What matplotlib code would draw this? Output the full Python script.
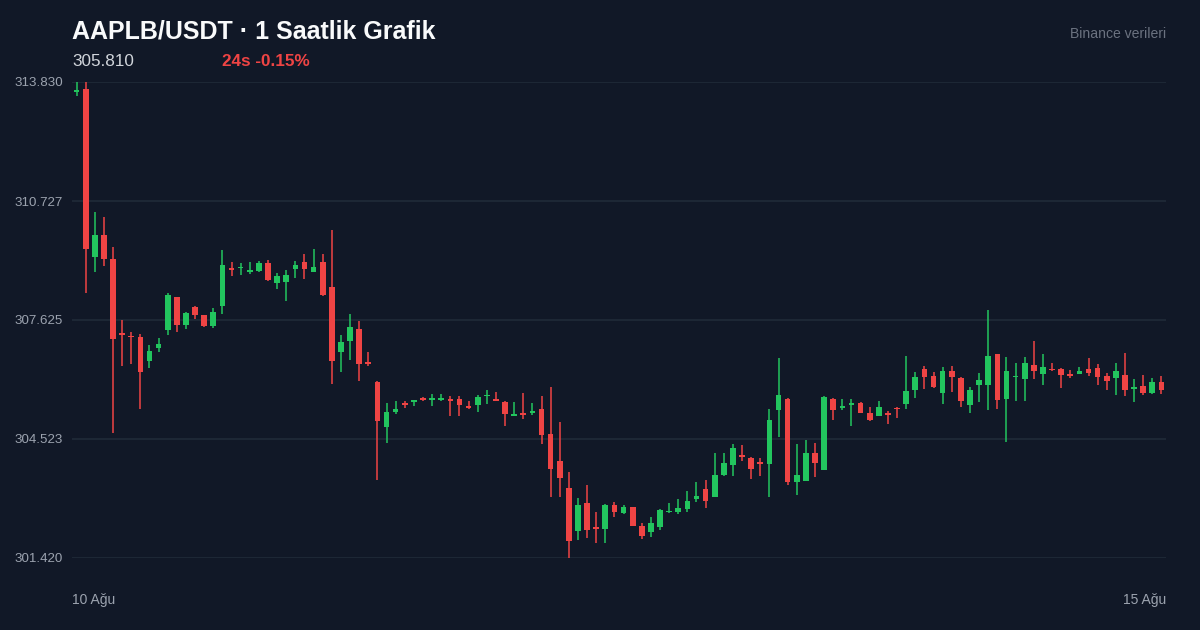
import matplotlib
matplotlib.use("Agg")
import matplotlib.pyplot as plt
import numpy as np

plt.rcParams['font.family'] = ['Liberation Sans', 'DejaVu Sans']

# ---- data (hourly candles, AAPLB/USDT) ----
opens = [313.57, 313.65, 309.28, 309.84, 309.22, 307.29, 307.22, 307.18, 306.56, 306.90,
         307.37, 308.22, 307.50, 307.97, 307.75, 307.48, 308.00, 308.97, 308.97, 308.88,
         308.89, 309.12, 308.60, 308.62, 308.95, 309.13, 308.88, 309.14, 308.49, 306.79,
         307.08, 307.38, 306.54, 306.01, 304.83, 305.23, 305.45, 305.50, 305.58, 305.54,
         305.54, 305.57, 305.57, 305.38, 305.40, 305.64, 305.57, 305.50, 305.13, 305.20,
         305.19, 305.30, 304.65, 303.96, 303.24, 302.13, 302.86, 302.22, 302.17, 302.80,
         302.59, 302.74, 302.26, 302.11, 302.22, 302.61, 302.61, 302.69, 302.96, 303.21,
         303.02, 303.58, 303.84, 304.11, 304.04, 303.92, 303.88, 305.27, 305.57, 303.41,
         303.43, 304.16, 303.72, 305.56, 305.33, 305.40, 305.47, 305.19, 305.13, 305.20,
         305.34, 305.44, 305.81, 306.36, 306.17, 305.73, 306.30, 306.12, 305.42, 305.94,
         305.93, 306.74, 305.57, 306.13, 306.08, 306.44, 306.22, 306.36, 306.35, 306.23,
         306.22, 306.34, 306.38, 306.17, 306.10, 306.19, 305.83, 305.90, 305.71, 306.02]
highs = [313.82, 313.83, 310.44, 310.31, 309.53, 307.63, 307.31, 307.26, 306.97, 307.16,
         308.33, 308.23, 307.83, 307.99, 307.76, 307.94, 309.45, 309.14, 309.11, 309.14,
         309.17, 309.18, 308.84, 308.93, 309.16, 309.35, 309.48, 309.35, 309.96, 307.23,
         307.78, 307.60, 306.79, 306.03, 305.47, 305.52, 305.51, 305.54, 305.61, 305.69,
         305.70, 305.64, 305.65, 305.52, 305.67, 305.79, 305.74, 305.51, 305.49, 305.71,
         305.46, 305.65, 305.87, 304.97, 303.65, 302.98, 303.32, 302.62, 302.83, 302.87,
         302.80, 302.75, 302.34, 302.48, 302.69, 302.85, 302.95, 303.17, 303.39, 303.45,
         304.16, 304.16, 304.38, 304.37, 304.05, 304.02, 305.30, 306.63, 305.59, 304.39,
         304.50, 304.42, 305.64, 305.59, 305.57, 305.56, 305.48, 305.36, 305.52, 305.24,
         305.36, 306.68, 306.26, 306.43, 306.28, 306.40, 306.43, 306.13, 305.87, 306.24,
         307.88, 306.75, 306.67, 306.50, 306.65, 307.08, 306.74, 306.50, 306.37, 306.31,
         306.39, 306.63, 306.47, 306.25, 306.50, 306.76, 306.08, 306.18, 306.10, 306.17]
lows = [313.47, 308.33, 308.88, 309.03, 304.68, 306.43, 306.48, 305.30, 306.37, 306.79,
        307.23, 307.31, 307.39, 307.65, 307.45, 307.42, 307.78, 308.77, 308.80, 308.82,
        308.88, 308.65, 308.44, 308.13, 308.73, 308.70, 308.87, 308.26, 305.96, 306.27,
        306.58, 306.03, 306.43, 303.45, 304.41, 305.17, 305.34, 305.38, 305.52, 305.38,
        305.52, 305.13, 305.13, 305.30, 305.23, 305.44, 305.51, 304.85, 305.12, 305.04,
        305.14, 304.38, 303.00, 303.00, 301.42, 301.90, 301.94, 301.82, 301.80, 302.48,
        302.57, 302.25, 301.92, 301.98, 302.16, 302.60, 302.58, 302.62, 302.89, 302.73,
        303.01, 303.57, 303.57, 303.95, 303.47, 303.57, 303.01, 304.58, 303.33, 303.07,
        303.42, 303.53, 303.71, 305.02, 305.28, 304.87, 305.20, 304.99, 305.12, 304.92,
        305.08, 305.30, 305.60, 305.83, 305.86, 305.43, 305.76, 305.35, 305.19, 305.50,
        305.29, 305.31, 304.44, 305.52, 305.52, 306.09, 305.94, 306.29, 305.85, 306.10,
        306.21, 306.17, 305.94, 305.81, 305.66, 305.65, 305.50, 305.66, 305.70, 305.70]
closes = [313.60, 309.48, 309.84, 309.22, 307.14, 307.23, 307.18, 306.27, 306.82, 306.99,
          308.28, 307.50, 307.82, 307.75, 307.46, 307.83, 309.06, 308.94, 309.01, 308.92,
          309.12, 308.66, 308.78, 308.81, 309.07, 308.96, 309.00, 308.27, 306.56, 307.05,
          307.44, 306.49, 306.49, 305.00, 305.23, 305.31, 305.41, 305.53, 305.54, 305.58,
          305.57, 305.52, 305.40, 305.33, 305.61, 305.68, 305.52, 305.17, 305.17, 305.16,
          305.24, 304.62, 303.75, 303.50, 301.86, 302.79, 302.14, 302.17, 302.80, 302.63,
          302.76, 302.26, 301.99, 302.34, 302.67, 302.65, 302.73, 302.90, 303.04, 302.91,
          303.58, 303.89, 304.28, 304.06, 303.75, 303.86, 305.02, 305.67, 303.41, 303.58,
          304.16, 303.89, 305.61, 305.29, 305.38, 305.45, 305.21, 305.01, 305.35, 305.16,
          305.30, 305.78, 306.15, 306.14, 305.87, 306.30, 306.13, 305.51, 305.81, 306.06,
          306.69, 305.55, 306.30, 306.17, 306.50, 306.30, 306.40, 306.31, 306.19, 306.17,
          306.30, 306.24, 306.15, 306.03, 306.30, 305.80, 305.89, 305.71, 306.02, 305.81]

title_text = "AAPLB/USDT · 1 Saatlik Grafik"
last_price_text = "305.810"
change_text = "24s -0.15%"
source_text = "Binance verileri"
date_labels = ["10 Ağu", "15 Ağu"]

# ---- style ----
BG = "#111827"
GRID = "#1f2937"
UP = "#22c55e"
DOWN = "#ef4444"
TICK = "#9ca3af"

fig = plt.figure(figsize=(12, 6.3), dpi=100, facecolor=BG)
ax = fig.add_axes([72/1200, 1 - 558/630, (1166-72)/1200, (558-82)/630])
ax.set_facecolor(BG)

o = np.array(opens); h = np.array(highs); l = np.array(lows); c = np.array(closes)
x = np.arange(len(o))
up = c >= o
colors = np.where(up, UP, DOWN)

ax.vlines(x, l, h, colors=colors, linewidth=1.1, zorder=3, clip_on=False)
body_bottom = np.minimum(o, c)
body_h = np.maximum(np.abs(c - o), 0.04)
ax.bar(x, body_h, bottom=body_bottom, width=0.62, color=colors, linewidth=0, zorder=4, clip_on=False)

ymin, ymax = l.min(), h.max()
ax.set_ylim(ymin, ymax)
ax.set_xlim(-0.5, len(o) - 0.5)
yt = np.linspace(ymin, ymax, 5)
ax.set_yticks(yt)
ax.set_yticklabels([f"{v:.3f}" for v in yt])
ax.yaxis.grid(True, color=GRID, linewidth=1.3, zorder=0)
ax.set_axisbelow(True)
ax.set_xticks([])
ax.tick_params(axis='y', length=0, pad=6.5, labelsize=9.6, labelcolor=TICK)
for s in ax.spines.values():
    s.set_visible(False)

# x date labels
ylab = -(604 - 558) / 476
ax.text(0, ylab, date_labels[0], transform=ax.transAxes, ha='left', va='baseline',
        fontsize=10, color=TICK)
ax.text(1, ylab, date_labels[1], transform=ax.transAxes, ha='right', va='baseline',
        fontsize=10, color=TICK)

# header
fig.text(72/1200, 1 - 38.3/630, title_text, ha='left', va='baseline',
         fontsize=18, fontweight='bold', color="#f9fafb")
fig.text(72/1200, 1 - 65.7/630, last_price_text, ha='left', va='baseline',
         fontsize=12.3, color="#d1d5db")
fig.text(222/1200, 1 - 65.7/630, change_text, ha='left', va='baseline',
         fontsize=12.3, fontweight='bold', color=DOWN)
fig.text(1166/1200, 1 - 38.3/630, source_text, ha='right', va='baseline',
         fontsize=10.1, color="#6b7280")

fig.savefig("out.png", dpi=100, facecolor=BG)
